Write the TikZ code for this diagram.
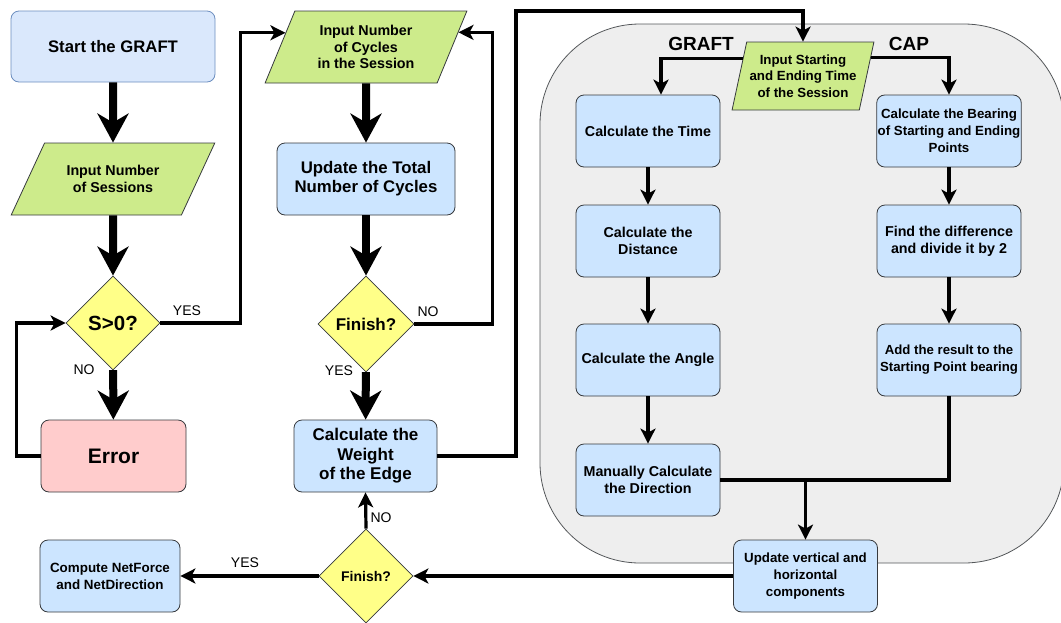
\documentclass[tikz,border=0pt]{standalone}
\usepackage{fontspec}
\setmainfont{Liberation Sans}
\usetikzlibrary{shapes.geometric,arrows.meta,calc}

\definecolor{edgegray}{HTML}{36393D}
\definecolor{startblue}{HTML}{DAE8FC}
\definecolor{startedge}{HTML}{6C8EBF}
\definecolor{procblue}{HTML}{CCE5FF}
\definecolor{iogreen}{HTML}{CDEB8B}
\definecolor{decyellow}{HTML}{FFFF88}
\definecolor{errred}{HTML}{FFCCCC}
\definecolor{panelgray}{HTML}{EEEEEE}

\tikzset{
    proc/.style={draw=edgegray, fill=procblue, line width=0.8pt, rounded corners=8pt,
        minimum width=144pt, minimum height=72pt, align=center, inner sep=1pt,
        font=\bfseries\fontsize{14.3}{17}\selectfont},
    inout/.style={draw=edgegray, fill=iogreen, line width=0.8pt, trapezium, trapezium stretches=true,
        minimum height=72pt, align=center, inner sep=0pt,
        font=\bfseries\fontsize{14.3}{16.5}\selectfont},
    decide/.style={draw=edgegray, fill=decyellow, line width=0.8pt, diamond, aspect=1, inner sep=0pt,
        minimum width=94pt, minimum height=94pt, font=\bfseries\fontsize{17}{20}\selectfont},
    thick arrow/.style={line width=8pt, -{Stealth[length=29pt, width=31pt, inset=9pt]}},
    thin arrow/.style={line width=3.2pt, -{Stealth[length=15pt, width=15pt, inset=4pt]}},
    answer/.style={font=\fontsize{14}{16}\selectfont},
    branch/.style={font=\bfseries\fontsize{19}{22}\selectfont},
}

\begin{document}
\begin{tikzpicture}[x=1pt,y=-1pt]
    \useasboundingbox (0,0) rectangle (1061,622);

    % Panel behind the two branches
    \draw[draw=edgegray!85, fill=panelgray, line width=0.8pt, rounded corners=100pt] (540,24) rectangle (1064,563);

    % Left column
    \node[proc, fill=startblue, draw=startedge, minimum width=204pt, minimum height=71pt,
        font=\bfseries\fontsize{16.7}{19}\selectfont] (start) at (113,46.5) {Start the GRAFT};
    \node[inout, trapezium left angle=50, trapezium right angle=130, minimum width=204pt]
        (nsess) at (113,179) {Input Number\\of Sessions};
    \node[decide, font=\bfseries\fontsize{20.5}{23}\selectfont] (s0) at (113,323) {S>0?};
    \node[proc, fill=errred, minimum width=145pt, font=\bfseries\fontsize{21}{24}\selectfont]
        (err) at (113.5,456) {Error};

    % Middle column
    \node[inout, trapezium left angle=65, trapezium right angle=115, minimum width=202pt]
        (ncyc) at (366,47) {Input Number\\of Cycles\\in the Session};
    \node[proc, minimum width=178pt, font=\bfseries\fontsize{16.8}{19}\selectfont]
        (total) at (366,179) {Update the Total\\Number of Cycles};
    \node[decide, minimum width=96pt, minimum height=96pt] (fin) at (366,324) {Finish?};
    \node[proc, minimum width=143pt, font=\bfseries\fontsize{17}{19.5}\selectfont]
        (wt) at (365.5,456) {Calculate the\\Weight\\of the Edge};
    \node[decide, font=\bfseries\fontsize{14}{17}\selectfont] (fin2) at (366,576) {Finish?};
    \node[proc, minimum width=140pt, font=\bfseries\fontsize{13.4}{17}\selectfont]
        (net) at (110,576) {Compute NetForce\\and NetDirection};

    % GRAFT and CAP branches
    \node[inout, trapezium left angle=72, trapezium right angle=108, minimum width=142pt,
        minimum height=68pt, font=\bfseries\fontsize{13.3}{16.5}\selectfont]
        (inp) at (803,76) {Input Starting\\and Ending Time\\of the Session};
    \node[branch] (graft) at (701,44) {GRAFT};
    \node[branch] (cap) at (909,44) {CAP};

    \node[proc] (time) at (648,131) {Calculate the Time};
    \node[proc] (dist) at (648,241) {Calculate the\\Distance};
    \node[proc] (ang) at (648,360) {Calculate the Angle};
    \node[proc] (man) at (648,480) {Manually Calculate\\the Direction};

    \node[proc, font=\bfseries\fontsize{13.3}{17}\selectfont] (bear) at (949,131)
        {Calculate the Bearing\\of Starting and Ending\\Points};
    \node[proc] (diff) at (949,241) {Find the difference\\and divide it by 2};
    \node[proc, font=\bfseries\fontsize{13.2}{17}\selectfont] (add) at (949,360)
        {Add the result to the\\Starting Point bearing};

    \node[proc, font=\bfseries\fontsize{13.3}{17}\selectfont] (upd) at (805.5,576)
        {Update vertical and\\horizontal\\components};

    % Main flow
    \draw[thick arrow] (start) -- (nsess);
    \draw[thick arrow] (nsess) -- (s0);
    \draw[thick arrow] (s0) -- (err);
    \draw[thick arrow] (ncyc) -- (total);
    \draw[thick arrow] (total) -- (fin);
    \draw[thick arrow] (fin) -- (wt);

    % Loops and jumps
    \draw[thin arrow] (err.west) -- ++(-24,0) |- (s0.west);
    \draw[thin arrow] (s0.east) -- ++(80,0) |- (ncyc.170);
    \draw[thin arrow] (fin.east) -- ++(78,0) |- (ncyc.9);
    \coordinate (topturn) at (516,11);
    \draw[thin arrow] (wt.east) -| (topturn) -| (inp.north);
    \draw[thin arrow] (fin2.north) -- (wt.south);
    \draw[thin arrow] (fin2.west) -- (net.east);
    \draw[thin arrow] (upd.west) -- (fin2.east);

    % Inside the panel
    \draw[thin arrow] (inp.164) -| ([xshift=13pt]time.north);
    \draw[thin arrow] (inp.15) -| (bear.north);
    \draw[thin arrow] (time) -- (dist);
    \draw[thin arrow] (dist) -- (ang);
    \draw[thin arrow] (ang) -- (man);
    \draw[thin arrow] (bear) -- (diff);
    \draw[thin arrow] (diff) -- (add);
    \draw[line width=3.2pt] (add.south) |- (man.east);
    \draw[thin arrow] (upd.north |- man.east) -- (upd.north);

    % Answers
    \node[answer] at (187,311) {YES};
    \node[answer] at (84,370) {NO};
    \node[answer] at (428,312) {NO};
    \node[answer] at (339,371) {YES};
    \node[answer] at (381,518) {NO};
    \node[answer] at (245,563) {YES};
\end{tikzpicture}
\end{document}
